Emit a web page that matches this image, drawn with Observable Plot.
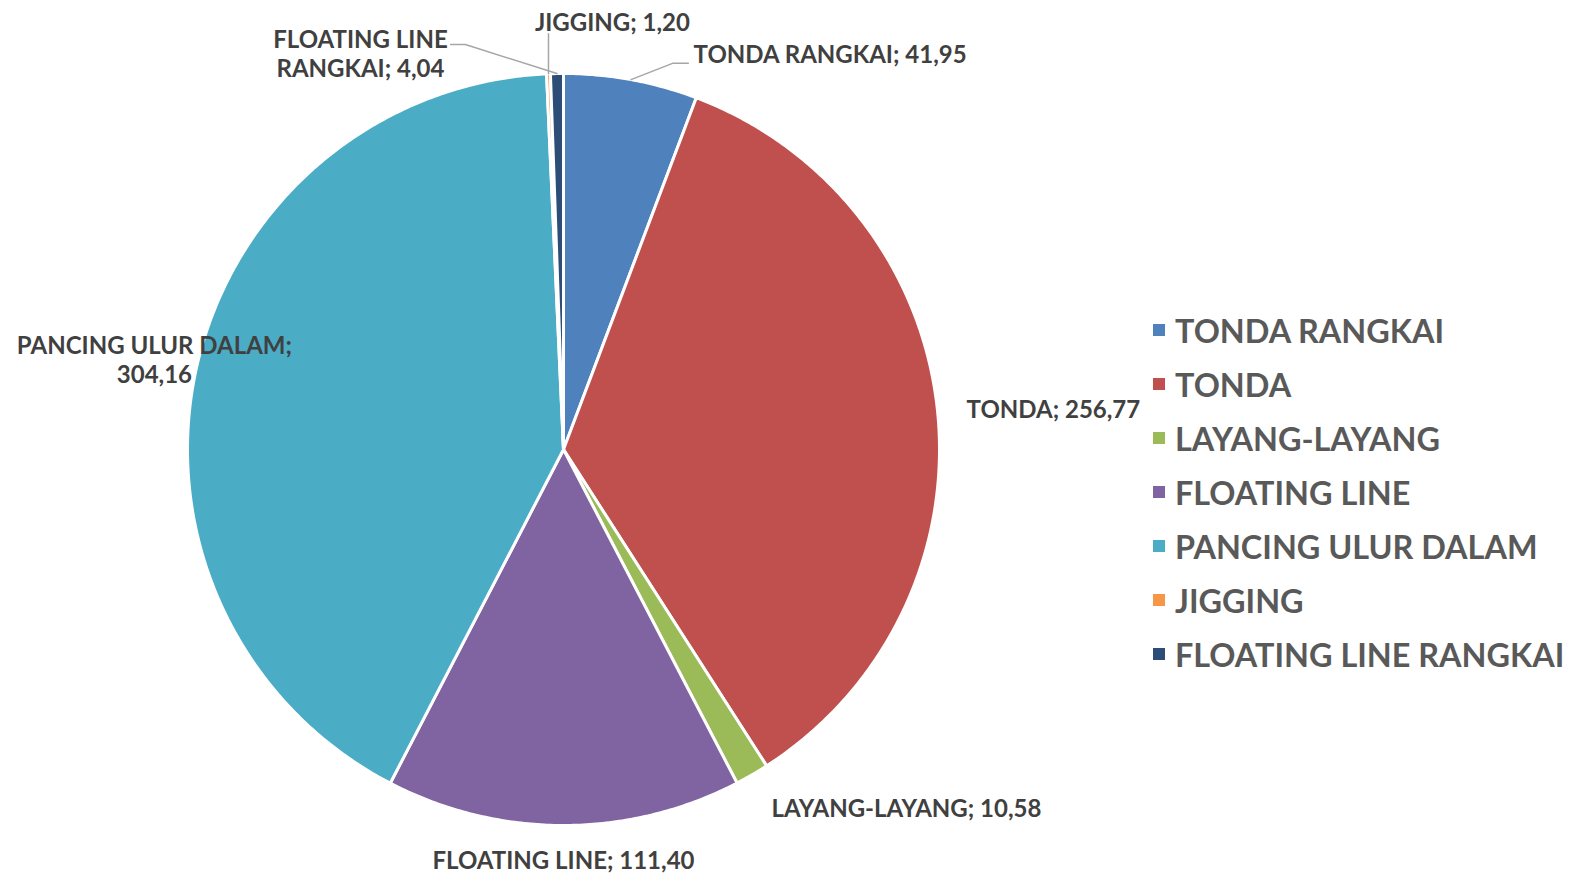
<!DOCTYPE html>
<html>
<head>
<meta charset="utf-8">
<script src="https://cdn.jsdelivr.net/npm/d3@7"></script>
<script src="https://cdn.jsdelivr.net/npm/@observablehq/plot@0.6"></script>
<style>
  html, body { margin: 0; padding: 0; background: #fff; }
  #wrap { position: relative; width: 1572px; height: 876px; font-family: Lato, sans-serif; }
  #legend { position: absolute; left: 1153px; top: 303px; }
  .row { height: 54px; display: flex; align-items: center; font-weight: bold; font-size: 32.4px; color: #595959; }
  .sw { width: 12px; height: 12px; margin-right: 10px; }
</style>
</head>
<body>
<div id="wrap"></div>
<script>
// ---- data ----
const categories = ["TONDA RANGKAI", "TONDA", "LAYANG-LAYANG", "FLOATING LINE", "PANCING ULUR DALAM", "JIGGING", "FLOATING LINE RANGKAI"];
const values = [41.95, 256.77, 10.58, 111.40, 304.16, 1.20, 4.04];
const colors = ["#4F81BD", "#C0504D", "#9BBB59", "#8064A2", "#4BACC6", "#F79646", "#2C4D75"];

// label placement (unit = pie radius, relative to centre)
const labelText = [
  "TONDA RANGKAI; 41,95", "TONDA; 256,77", "LAYANG-LAYANG; 10,58", "FLOATING LINE; 111,40",
  "PANCING ULUR DALAM;\n304,16", "JIGGING; 1,20", "FLOATING LINE\nRANGKAI; 4,04"
];
const labelX = [0.346, 1.072, 0.553, 0.0, -1.088, 0.130, -0.540];
const labelY = [-1.053, -0.109, 0.952, 1.090, -0.240, -1.138, -1.053];
const labelAnchor = ["start", "start", "start", "middle", "middle", "middle", "middle"];
// leader lines in radius units, first point computed from slice
const leaderBends = {0: [[0.290, -1.027], [0.332, -1.027]], 5: [[null, -1.106]], 6: [[-0.261, -1.077], [-0.300, -1.077]]};

// ---- geometry ----
const R = 376, CX = 563, CY = 449, W = 1572, H = 876;
const data = categories.map((c, i) => ({category: c, value: values[i]}));
const arcs = d3.pie().sort(null).value(d => d.value).startAngle(0).endAngle(2 * Math.PI)(data);
const pts = [];
arcs.forEach(a => {
  const c = a.data.category;
  pts.push({category: c, x: 0, y: 0});
  const n = Math.max(2, Math.ceil((a.endAngle - a.startAngle) / (Math.PI / 360)));
  for (let k = 0; k <= n; k++) {
    const t = a.startAngle + (a.endAngle - a.startAngle) * k / n;
    pts.push({category: c, x: Math.sin(t), y: -Math.cos(t)});
  }
  pts.push({category: c, x: 0, y: 0});
});

const leaders = [];
Object.entries(leaderBends).forEach(([i, bends]) => {
  const a = arcs[+i];
  const m = (a.startAngle + a.endAngle) / 2;
  const p0 = {x: Math.sin(m), y: -Math.cos(m)};
  leaders.push({id: i, x: p0.x, y: p0.y});
  bends.forEach(b => leaders.push({id: i, x: b[0] == null ? p0.x : b[0], y: b[1]}));
});

const labels = categories.map((c, i) => ({text: labelText[i], x: labelX[i], y: labelY[i], anchor: labelAnchor[i]}));

const chart = Plot.plot({
  width: W, height: H,
  margin: 0,
  x: {domain: [-CX / R, (W - CX) / R], range: [0, W], axis: null},
  y: {domain: [-CY / R, (H - CY) / R], range: [0, H], axis: null},
  color: {domain: categories, range: colors},
  style: {fontFamily: "Lato, sans-serif", background: "white"},
  marks: [
    Plot.line(pts, {x: "x", y: "y", z: "category", fill: "category", stroke: "white", strokeWidth: 3, strokeLinejoin: "round"}),
    Plot.line(leaders, {x: "x", y: "y", z: "id", stroke: "#a6a6a6", strokeWidth: 1.5}),
    Plot.text(labels.filter(d => d.anchor === "start"), {x: "x", y: "y", text: "text", textAnchor: "start", fontSize: 24, fontWeight: "bold", fill: "#404040", lineHeight: 1.2}),
    Plot.text(labels.filter(d => d.anchor === "middle"), {x: "x", y: "y", text: "text", textAnchor: "middle", fontSize: 24, fontWeight: "bold", fill: "#404040", lineHeight: 1.2})
  ]
});

const wrap = document.getElementById("wrap");
wrap.appendChild(chart);
const legend = document.createElement("div");
legend.id = "legend";
categories.forEach((c, i) => {
  const row = document.createElement("div");
  row.className = "row";
  const sw = document.createElement("span");
  sw.className = "sw";
  sw.style.background = colors[i];
  const tx = document.createElement("span");
  tx.textContent = c;
  row.appendChild(sw); row.appendChild(tx);
  legend.appendChild(row);
});
wrap.appendChild(legend);
</script>
</body>
</html>
